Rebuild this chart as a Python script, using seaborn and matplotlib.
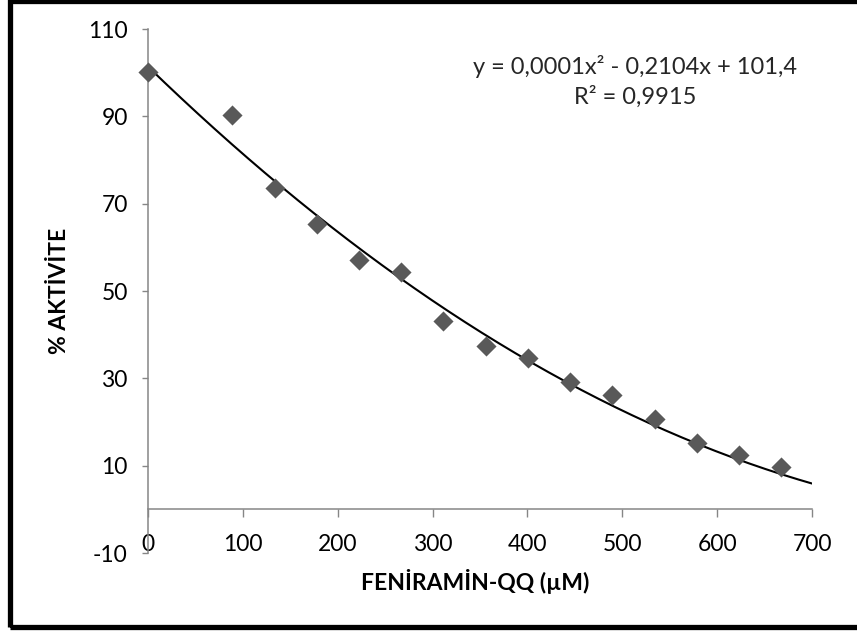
import matplotlib
matplotlib.use("Agg")
import matplotlib.pyplot as plt
import numpy as np
import pandas as pd
import seaborn as sns
from matplotlib.patches import Rectangle

# values
concentration_um = [0, 89, 133.5, 178, 222.5, 267, 311.5, 356, 400.5, 445, 489.5, 534, 578.5, 623, 667.5]
activity_pct = [100.1, 90.4, 73.7, 65.3, 57.0, 54.3, 43.1, 37.5, 34.7, 29.2, 26.3, 20.8, 15.2, 12.4, 9.7]
# trendline coefficients as printed on the chart (x² term estimated from the drawn curve)
trend_coeffs = [0.0001057, -0.2104, 101.4]
x_ticks = [0, 100, 200, 300, 400, 500, 600, 700]
y_ticks = [-10, 10, 30, 50, 70, 90, 110]
equation_text = "y = 0,0001x² - 0,2104x + 101,4\nR² = 0,9915"

df = pd.DataFrame({"conc": concentration_um, "activity": activity_pct})

sns.set_theme(style="white")
plt.rcParams["font.family"] = ["Lato", "DejaVu Sans"]
plt.rcParams["axes.unicode_minus"] = False

axis_grey = "#868686"
marker_grey = "#595959"

fig = plt.figure(figsize=(8.57, 6.32), dpi=100)
ax = fig.add_axes([0.1727, 0.125, 0.7748, 0.829])

# polynomial trendline across the whole x range
trend_x = np.linspace(0, 700, 200)
trend_df = pd.DataFrame({"conc": trend_x, "activity": np.polyval(trend_coeffs, trend_x)})
sns.lineplot(data=trend_df, x="conc", y="activity", color="black", linewidth=1.5, ax=ax)
sns.scatterplot(data=df, x="conc", y="activity", marker="D", s=105, color=marker_grey,
                linewidth=0, zorder=3, ax=ax, clip_on=False)
ax.set_xlim(0, 700)
ax.set_ylim(-10, 110)

ax.set_xticks(x_ticks)
ax.set_yticks(y_ticks)
ax.tick_params(axis="x", direction="out", length=5.5, width=1, color=axis_grey,
               pad=12, labelsize=16.5, labelcolor="black", bottom=True)
ax.tick_params(axis="y", direction="out", length=4.5, width=1, color=axis_grey,
               pad=10, labelsize=16.5, labelcolor="black", left=True)

for side in ["top", "right"]:
    ax.spines[side].set_visible(False)
ax.spines["bottom"].set_position(("data", 0))
for side in ["left", "bottom"]:
    ax.spines[side].set_color(axis_grey)
    ax.spines[side].set_linewidth(1.1)

ax.set_xlabel("FENİRAMİN-QQ (µM)", fontsize=16.5, fontweight="bold", color="black")
ax.set_ylabel("% AKTİVİTE", fontsize=16.5, fontweight="bold", color="black")
ax.xaxis.set_label_coords(0.493, -0.03)
ax.yaxis.set_label_coords(-0.117, 0.5)

ax.text(0.734, 0.9, equation_text, transform=ax.transAxes, ha="center", va="center",
        fontsize=17, linespacing=1.4)

# thick frame around the chart area
fig.add_artist(Rectangle((9.5 / 857, 5.5 / 632), 1.2, 1.0 - 6.5 / 632,
                         transform=fig.transFigure, fill=False, edgecolor="black",
                         linewidth=3.8, clip_on=False))

fig.savefig("out.png", dpi=100)
